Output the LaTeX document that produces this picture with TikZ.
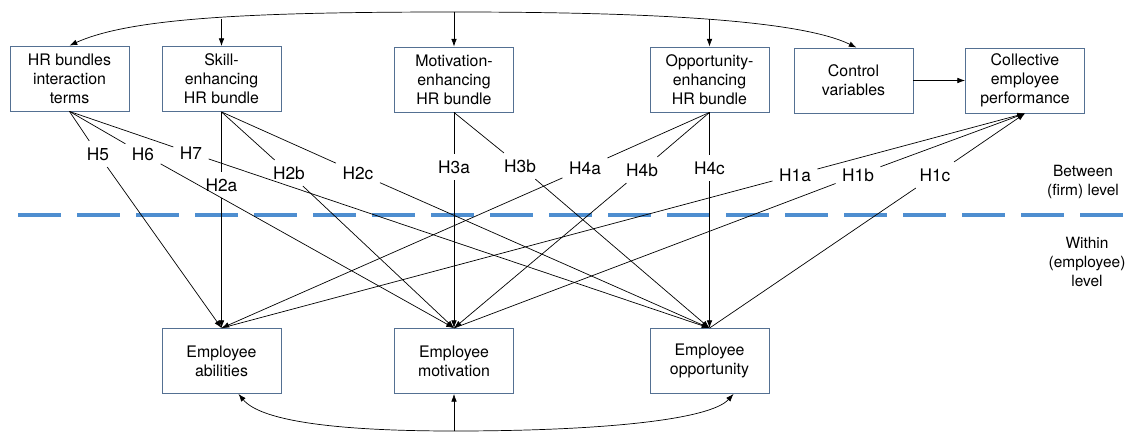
\documentclass[tikz,border=0pt]{standalone}
\usepackage{fontspec}
\setmainfont{TeX Gyre Heros}
\usetikzlibrary{arrows.meta,calc}
\definecolor{boxline}{RGB}{84,112,146}
\definecolor{levelblue}{RGB}{78,142,208}

\begin{document}
\begin{tikzpicture}[x=0.025cm,y=-0.025cm,
  box/.style={draw=boxline,line width=0.6pt,minimum width=2.975cm,minimum height=1.625cm,
    align=center,inner sep=1pt,font=\fontsize{11.3}{13.5}\selectfont},
  hyp/.style={inner sep=4.5pt,font=\fontsize{12.3}{14}\selectfont},
  lvl/.style={align=center,font=\fontsize{11}{13.5}\selectfont},
  link/.style={line width=0.5pt},
  arr/.style={link,-{Latex[length=5.5pt,width=4pt]}}]

\useasboundingbox (0,0) rectangle (1129,433);

% between (firm) level
\node[box] (inter) at (69.5,78.5) {HR bundles\\interaction\\terms};
\node[box] (skill) at (221.5,79) {Skill-\\enhancing\\HR bundle};
\node[box] (motbun) at (454,79.5) {Motivation-\\enhancing\\HR bundle};
\node[box] (oppbun) at (709.5,79.5) {Opportunity-\\enhancing\\HR bundle};
\node[box] (ctrl) at (853.5,80.5) {Control\\variables};
\node[box] (coll) at (1025,80.5) {Collective\\employee\\performance};

% within (employee) level
\node[box] (abil) at (221.5,361) {Employee\\abilities};
\node[box] (motiv) at (454,361) {Employee\\motivation};
\node[box] (oppo) at (709.5,361) {Employee\\opportunity};

% level divider
\draw[levelblue,line width=3.5pt,dash pattern=on 1.075cm off 0.4cm] (18,215) -- (1129,215);
\node[lvl] (between) at (1083,182) {Between\\(firm) level};
\node[lvl] (within) at (1087,262) {Within\\(employee)\\level};

% hypotheses
\node[hyp] (h5) at (98,154) {H5};
\node[hyp] (h6) at (143,154) {H6};
\node[hyp] (h7) at (191,153) {H7};
\node[hyp] (h2a) at (221.5,185) {H2a};
\node[hyp] (h2b) at (289,173) {H2b};
\node[hyp] (h2c) at (358,173) {H2c};
\node[hyp] (h3a) at (454,167) {H3a};
\node[hyp] (h3b) at (520,166) {H3b};
\node[hyp] (h4a) at (585,168) {H4a};
\node[hyp] (h4b) at (642,170) {H4b};
\node[hyp] (h4c) at (709.5,168) {H4c};
\node[hyp] (h1a) at (795,175) {H1a};
\node[hyp] (h1b) at (858,175) {H1b};
\node[hyp] (h1c) at (935,175) {H1c};

\draw[arr] (inter.south) -- (h5) -- (abil.north);
\draw[arr] (inter.south) -- (h6) -- (motiv.north);
\draw[arr] (inter.south) -- (h7) -- (oppo.north);
\draw[arr] (skill.south) -- (h2a) -- (abil.north);
\draw[arr] (skill.south) -- (h2b) -- (motiv.north);
\draw[arr] (skill.south) -- (h2c) -- (oppo.north);
\draw[arr] (motbun.south) -- (h3a) -- (motiv.north);
\draw[arr] (motbun.south) -- (h3b) -- (oppo.north);
\draw[arr] (oppbun.south) -- (h4a) -- (abil.north);
\draw[arr] (oppbun.south) -- (h4b) -- (motiv.north);
\draw[arr] (oppbun.south) -- (h4c) -- (oppo.north);
\draw[arr] (abil.north) -- (h1a) -- (coll.south);
\draw[arr] (motiv.north) -- (h1b) -- (coll.south);
\draw[arr] (oppo.north) -- (h1c) -- (coll.south);

\draw[arr] (ctrl) -- (coll);

% top arc
\coordinate (toparc) at (454,12);
\coordinate (arcS) at (221.5,19);
\coordinate (arcO) at (709.5,19);
\draw[arr] (toparc) .. controls (250,12) and (130,18) .. (inter.north);
\draw[arr] (toparc) .. controls (650,12) and (800,20) .. ($(ctrl.north)+(3,0)$);
\draw[arr] (arcS) -- (skill.north);
\draw[arr] (toparc) -- (motbun.north);
\draw[arr] (arcO) -- (oppbun.north);

% bottom arc
\coordinate (botarc) at (454,431);
\draw[arr] (botarc) .. controls (330,431) and (260,420) .. ($(abil.south)+(17,0)$);
\draw[arr] (botarc) .. controls (600,431) and (710,420) .. ($(oppo.south)+(24,0)$);
\draw[arr] (botarc) -- (motiv.south);

\end{tikzpicture}
\end{document}
